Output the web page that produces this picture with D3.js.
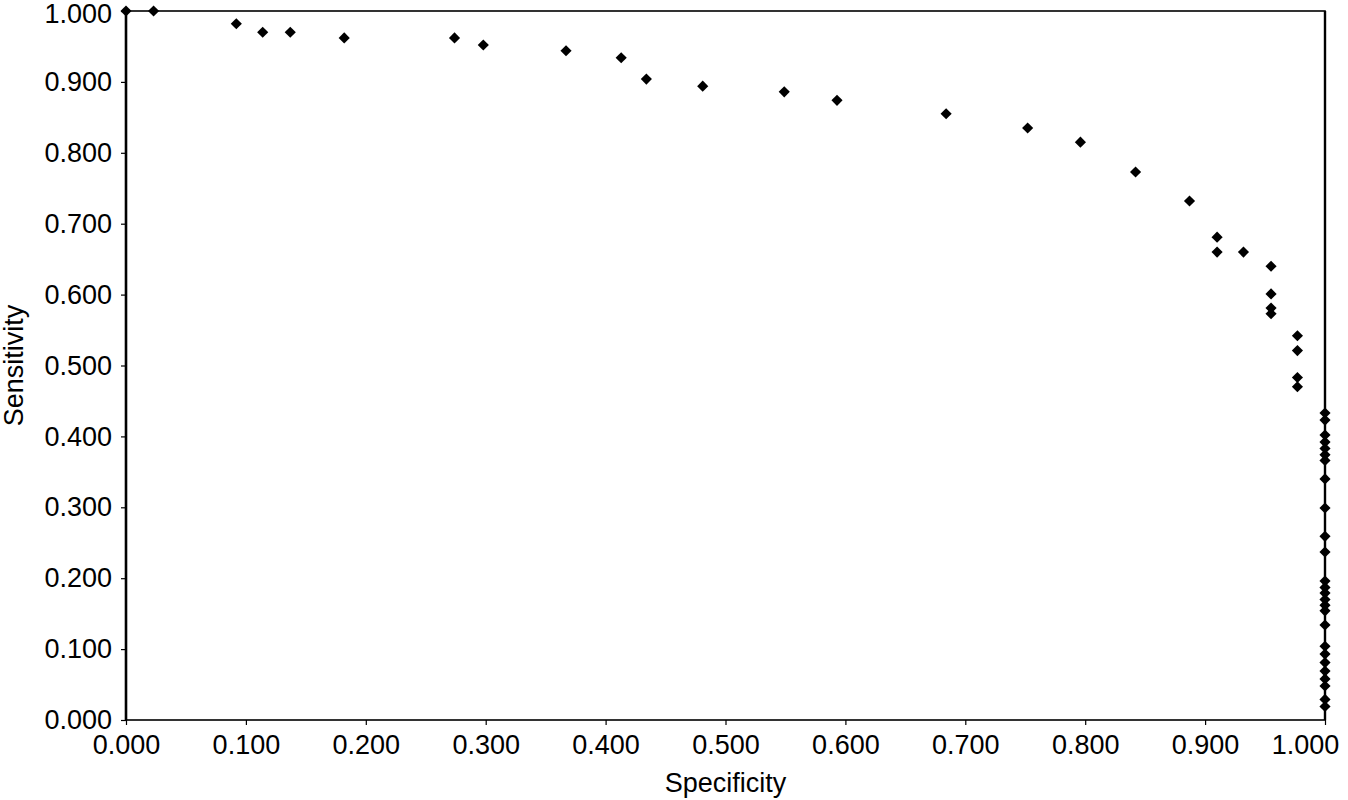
<!DOCTYPE html>
<html lang="en">
  <head>
    <meta charset="utf-8">
    <title>Sensitivity vs Specificity</title>
    <script src="https://d3js.org/d3.v7.min.js"></script>
    <style>
      body { margin: 0; background: #fff; }
      text { font-family: "Liberation Sans", Arial, sans-serif; fill: #000; }
    </style>
  </head>
  <body>
    <script>

    // data
    var specificity = [
      0.000, 0.023, 0.092, 0.114, 0.137, 0.182, 0.274, 0.298, 0.367, 0.413,
      0.434, 0.481, 0.549, 0.593, 0.684, 0.752, 0.796, 0.842, 0.887, 0.910,
      0.910, 0.932, 0.955, 0.955, 0.955, 0.955, 0.977, 0.977, 0.977, 0.977,
      1.000, 1.000, 1.000, 1.000, 1.000, 1.000, 1.000, 1.000, 1.000, 1.000,
      1.000, 1.000, 1.000, 1.000, 1.000, 1.000, 1.000, 1.000, 1.000, 1.000,
      1.000, 1.000, 1.000, 1.000, 1.000, 1.000
    ];
    var sensitivity = [
      1.000, 1.000, 0.982, 0.970, 0.970, 0.962, 0.962, 0.952, 0.944, 0.934,
      0.904, 0.894, 0.886, 0.874, 0.855, 0.835, 0.815, 0.773, 0.732, 0.681,
      0.660, 0.660, 0.640, 0.601, 0.581, 0.573, 0.542, 0.521, 0.483, 0.470,
      0.433, 0.423, 0.402, 0.392, 0.383, 0.374, 0.366, 0.340, 0.299, 0.259,
      0.237, 0.196, 0.187, 0.179, 0.170, 0.162, 0.154, 0.134, 0.104, 0.093,
      0.081, 0.069, 0.058, 0.048, 0.029, 0.019
    ];
    var tickValues = [0, 0.1, 0.2, 0.3, 0.4, 0.5, 0.6, 0.7, 0.8, 0.9, 1.0];
    var xTitle = "Specificity";
    var yTitle = "Sensitivity";

    var w = 1348;
    var h = 800;
    var padL = 126, padR = 1325, padT = 11, padB = 720;

    var data = specificity.map(function (s, i) {
      return { spec: s, sens: sensitivity[i] };
    });

    var xScale = d3.scaleLinear()
      .domain([0, 1])
      .range([padL, padR]);

    var yScale = d3.scaleLinear()
      .domain([0, 1])
      .range([padB, padT]);

    var svg = d3.select("body")
      .append("svg")
      .attr("width", w)
      .attr("height", h);

    var xAxis = d3.axisBottom(xScale)
      .tickValues(tickValues)
      .tickFormat(d3.format(".3f"))
      .tickSizeInner(5)
      .tickSizeOuter(0)
      .tickPadding(10);

    var yAxis = d3.axisLeft(yScale)
      .tickValues(tickValues)
      .tickFormat(d3.format(".3f"))
      .tickSizeInner(5)
      .tickSizeOuter(0)
      .tickPadding(9);

    var gx = svg.append("g")
      .attr("transform", "translate(0," + padB + ")")
      .call(xAxis)
      .call(g => g.select(".domain").remove());

    var gy = svg.append("g")
      .attr("transform", "translate(" + padL + ",0)")
      .call(yAxis)
      .call(g => g.select(".domain").remove());

    svg.selectAll(".tick line")
      .attr("stroke", "#000")
      .attr("stroke-width", 1.2);

    svg.selectAll(".tick text")
      .style("font-size", "27px")
      .attr("fill", "#000");

    // last x label is pulled in so it stays on the page
    gx.selectAll(".tick text")
      .filter(d => d === 1)
      .attr("dx", -20);

    // top y label nudged down a little, as in the original
    gy.selectAll(".tick text")
      .filter(d => d === 1)
      .attr("dy", "0.42em");

    // plot frame
    svg.append("rect")
      .attr("x", padL)
      .attr("y", padT)
      .attr("width", padR - padL)
      .attr("height", padB - padT)
      .attr("fill", "none")
      .attr("stroke", "#000")
      .attr("stroke-width", 1.6);

    svg.append("line")
      .attr("x1", padL).attr("x2", padL)
      .attr("y1", padT).attr("y2", padB)
      .attr("stroke", "#000")
      .attr("stroke-width", 2.6);

    svg.append("line")
      .attr("x1", padR).attr("x2", padR)
      .attr("y1", padT).attr("y2", padB)
      .attr("stroke", "#000")
      .attr("stroke-width", 2.4);

    // diamond markers
    var marker = d3.symbol().type(d3.symbolSquare).size(62);

    svg.append("g")
      .selectAll("path")
      .data(data)
      .enter()
      .append("path")
      .attr("d", marker)
      .attr("transform", d => "translate(" + xScale(d.spec) + "," + yScale(d.sens) + ") rotate(45)")
      .attr("fill", "#000");

    // axis titles
    svg.append("text")
      .attr("x", (padL + padR) / 2)
      .attr("y", 792)
      .attr("text-anchor", "middle")
      .style("font-size", "27px")
      .text(xTitle);

    svg.append("text")
      .attr("transform", "translate(23," + (padT + padB) / 2 + ") rotate(-90)")
      .attr("text-anchor", "middle")
      .style("font-size", "27px")
      .text(yTitle);

    </script>
  </body>
</html>
